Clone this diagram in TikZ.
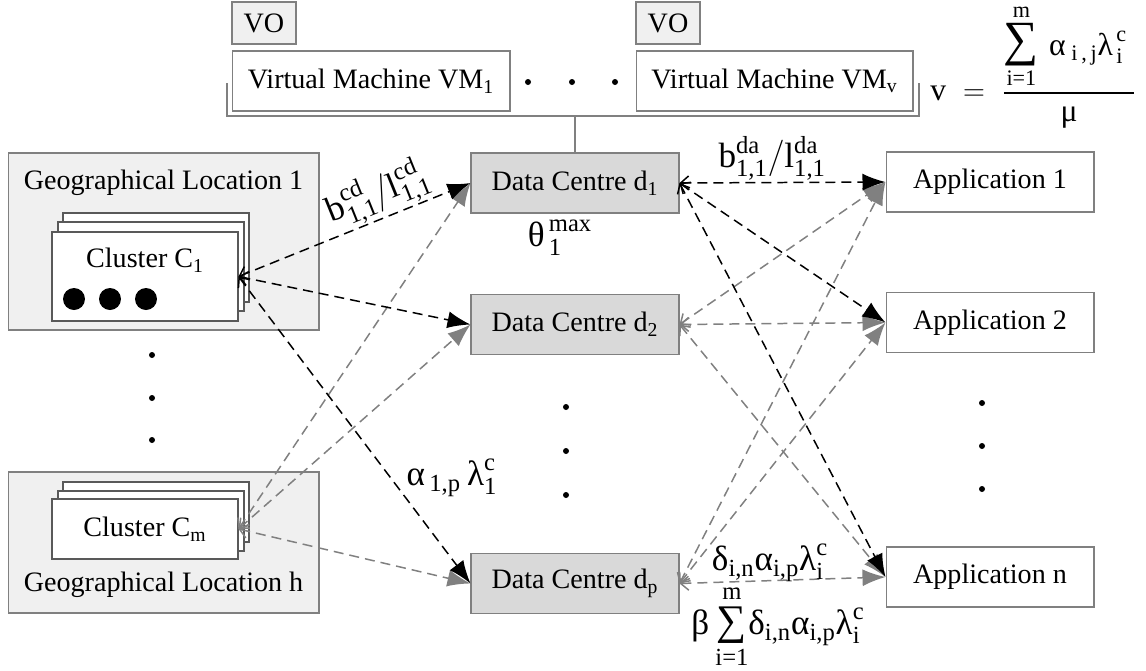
\documentclass[tikz,border=0pt]{standalone}
\usepackage{fontspec}
\setmainfont{LiberationSerif}[Extension=.ttf, UprightFont=*-Regular, BoldFont=*-Bold, ItalicFont=*-Italic]
\usepackage{amsmath}
\usetikzlibrary{arrows.meta}

\newcommand\tx[1]{\text{#1}}

\begin{document}
\begin{tikzpicture}[x=0.02cm, y=-0.02cm,
        font=\fontsize{16}{19}\selectfont,
        frame/.style={draw=black!50, line width=0.6pt, inner sep=0pt},
        geobox/.style={frame, fill=black!6, minimum width=6.22cm},
        clbox/.style={frame, draw=black!65, fill=white, minimum width=3.72cm},
        dcbox/.style={frame, fill=black!15, minimum width=4.16cm, minimum height=1.2cm},
        appbox/.style={frame, fill=white, minimum width=4.16cm, minimum height=1.2cm},
        vmbox/.style={frame, fill=white, minimum height=1.2cm},
        vobox/.style={frame, fill=black!6, minimum width=1.28cm, minimum height=0.84cm},
        link/.style={line width=0.85pt, dash pattern=on 2mm off 1.2mm,
            {Straight Barb[length=1.6mm,width=2.8mm]}-{Latex[length=4.6mm,width=3.4mm]}},
        blk/.style={link, black},
        gry/.style={link, black!50},
        mlabel/.style={font=\fontsize{20}{24}\selectfont, inner sep=1pt}
    ]

        \useasboundingbox (0,0) rectangle (1146,670);

        % Virtual machines
        \node[vobox] (vo1) at (264,23) {VO};
        \node[vobox] (vo2) at (668,23) {VO};
        \node[vmbox, minimum width=5.56cm] (vm1) at (371,81) {Virtual Machine VM\textsubscript{1}};
        \node[vmbox, minimum width=5.54cm] (vmv) at (774.5,81) {Virtual Machine VM\textsubscript{v}};
        \foreach \x in {528,572,615}
            \fill (\x,82) circle (0.6mm);
        \draw[black!50, line width=0.6pt] (227,83) -- (227,116) -- (919,116) -- (919,83);
        \coordinate (hub) at (575,116);

        \node[font=\fontsize{18}{22}\selectfont, anchor=west, inner sep=0pt] (vform) at (930,66)
            {$\tx{v} \;=\; \dfrac{\displaystyle\mathop{\tx{\fontsize{28}{28}\selectfont ∑}}\limits_{\tx{i=1}}^{\tx{m}}\,\tx{α}_{\;\tx{i\,,\,j}}\tx{λ}^{\,\tx{c}}_{\,\tx{i}}\hspace{4pt}}{\tx{μ}}$};

        % Geographical locations
        \node[geobox, minimum height=3.54cm] (geo1) at (163.5,241.5) {};
        \node (geo1t) at (163.5,183) {Geographical Location 1};
        \foreach \dx/\dy in {11/-19, 6/-10}
            \draw[frame, draw=black!65, fill=white] (52+\dx,232+\dy) rectangle (238+\dx,321+\dy);
        \node[clbox, minimum height=1.78cm] (c1) at (145,276.5) {};
        \node (c1t) at (145,260) {Cluster C\textsubscript{1}};
        \foreach \x in {74,110,146}
            \fill (\x,299) circle (2.2mm);

        \foreach \y in {355,398,440}
            \fill (152,\y) circle (0.6mm);

        \node[geobox, minimum height=2.82cm] (geoh) at (163.5,542.5) {};
        \node (geoht) at (163.5,585) {Geographical Location h};
        \foreach \dx/\dy in {11/-17, 6/-8}
            \draw[frame, draw=black!65, fill=white] (52+\dx,499+\dy) rectangle (238+\dx,559+\dy);
        \node[clbox, minimum height=1.2cm] (cm) at (145,529) {Cluster C\textsubscript{m}};

        % Data centres
        \node[dcbox] (d1) at (575,183) {Data Centre d\textsubscript{1}};
        \node[dcbox] (d2) at (575,324.5) {Data Centre d\textsubscript{2}};
        \node[dcbox] (dp) at (575,583.5) {Data Centre d\textsubscript{p}};
        \foreach \y in {407,451,495}
            \fill (566,\y) circle (0.6mm);
        \draw[black!50, line width=0.6pt] (hub) -- (d1.north);

        % Applications
        \node[appbox] (a1) at (990,182) {Application 1};
        \node[appbox] (a2) at (990,322.5) {Application 2};
        \node[appbox] (an) at (990,577) {Application n};
        \foreach \y in {403,446,489}
            \fill (982,\y) circle (0.6mm);

        % Links
        \foreach \t in {d1,d2,dp}
            \draw[gry] (cm.east) -- (\t.west);
        \foreach \s in {d2,dp}
            \foreach \t in {a1,a2,an}
                \draw[gry] (\s.east) -- (\t.west);
        \foreach \t in {d1,d2,dp}
            \draw[blk] (c1.east) -- (\t.west);
        \foreach \t in {a1,a2,an}
            \draw[blk] (d1.east) -- (\t.west);

        % Labels
        \path (c1.east) -- (d1.west) node[mlabel, sloped, above, pos=0.64] (lbcd)
            {$\tx{b}^{\tx{cd}}_{\tx{1,1}}/\tx{l}^{\tx{cd}}_{\tx{1,1}}$};
        \path (d1.east) -- (a1.west) node[mlabel, above, pos=0.45] (lbda)
            {$\tx{b}^{\tx{da}}_{\tx{1,1}}/\tx{l}^{\tx{da}}_{\tx{1,1}}$};
        \node[mlabel] (ltheta) at (560,238) {$\tx{θ}^{\,\tx{max}}_{\,\tx{1}}$};
        \node[mlabel] (lalpha) at (452,478) {$\tx{α}_{\,\tx{1,p}}\,\tx{λ}^{\tx{c}}_{\tx{1}}$};
        \node[mlabel] (ldelta) at (770,563) {$\tx{δ}_{\tx{i,n}}\tx{α}_{\tx{i,p}}\tx{λ}^{\tx{c}}_{\tx{i}}$};
        \node[mlabel] (lbeta) at (778,627)
            {$\tx{β}\mathop{\tx{\fontsize{24}{24}\selectfont ∑}}\limits_{\tx{i=1}}^{\tx{m}}\!\tx{δ}_{\tx{i,n}}\tx{α}_{\tx{i,p}}\tx{λ}^{\tx{c}}_{\tx{i}}$};

\end{tikzpicture}
\end{document}
